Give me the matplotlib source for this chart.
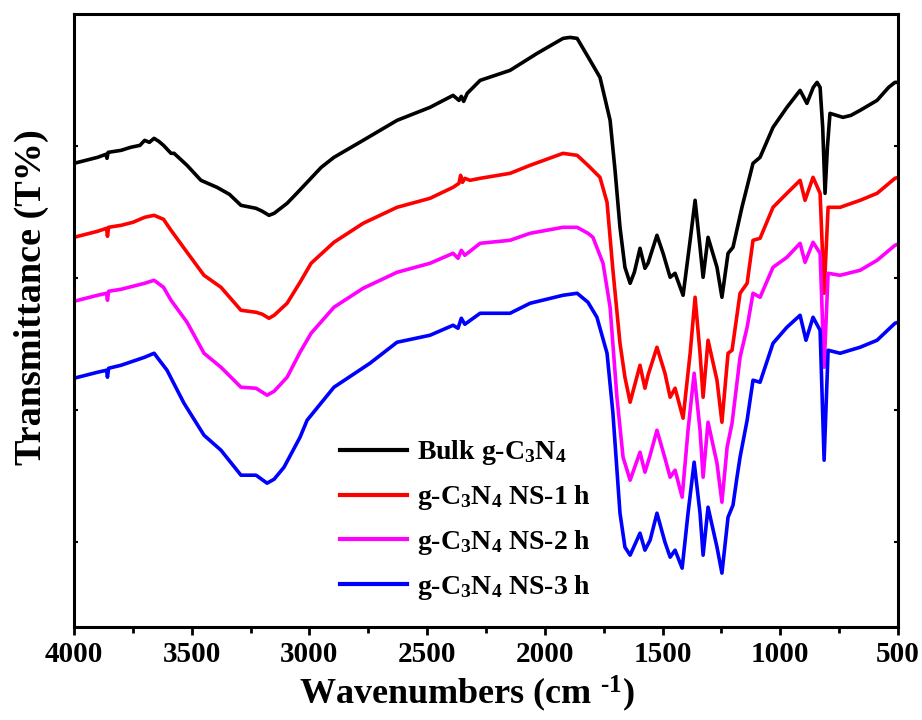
import matplotlib
matplotlib.use("Agg")
import matplotlib.pyplot as plt
from matplotlib.ticker import MultipleLocator

plt.rcParams['font.family'] = ['Liberation Serif', 'DejaVu Serif']
plt.rcParams['font.weight'] = 'bold'
plt.rcParams['mathtext.fontset'] = 'custom'
plt.rcParams['mathtext.rm'] = 'Liberation Serif:bold'
plt.rcParams['mathtext.bf'] = 'Liberation Serif:bold'
plt.rcParams['mathtext.default'] = 'bf'

# FTIR spectra, transmittance in arbitrary units (curves offset for clarity)
wn_bulk = [4000, 3950, 3900, 3865, 3860, 3855, 3800, 3760, 3720, 3700, 3680, 3660, 3640,
           3620, 3588, 3575, 3520, 3461, 3393, 3340, 3291, 3227, 3200, 3172, 3150, 3095,
           3050, 3010, 2950, 2896, 2772, 2628, 2488, 2390, 2365, 2355, 2345, 2330, 2275,
           2148, 2033, 1923, 1893, 1863, 1808, 1766, 1723, 1702, 1681, 1660, 1638, 1620,
           1596, 1575, 1562, 1524, 1498, 1468, 1447, 1413, 1383, 1362, 1341, 1328, 1307,
           1269, 1248, 1222, 1201, 1163, 1116, 1086, 1031, 972, 916, 887, 860, 844, 831,
           820, 810, 800, 789, 734, 700, 661, 589, 540, 513, 500]
t_bulk = [464, 467, 470, 473, 469, 475, 477, 480, 482, 487, 485, 489, 486,
          482, 474, 474, 462, 447, 440, 433, 422, 419, 416, 412, 414, 424,
          435, 445, 460, 470, 487, 507, 520, 532, 527, 531, 526, 534, 547,
          557, 574, 589, 590, 589, 567, 550, 507, 457, 400, 360, 344, 355,
          379, 359, 364, 392, 374, 350, 354, 332, 387, 427, 380, 350, 390,
          360, 330, 374, 380, 420, 464, 470, 500, 520, 537, 524, 540, 545, 540,
          500, 434, 480, 514, 510, 512, 517, 527, 540, 545, 545]

wn_ns1 = [4000, 3950, 3900, 3862, 3858, 3853, 3800, 3750, 3700, 3660, 3620, 3588, 3520,
          3448, 3376, 3291, 3227, 3200, 3172, 3150, 3095, 3040, 2993, 2896, 2772, 2628,
          2488, 2390, 2365, 2358, 2350, 2340, 2318, 2275, 2148, 2063, 1923, 1863, 1817,
          1766, 1736, 1711, 1681, 1660, 1638, 1596, 1575, 1562, 1524, 1490, 1468, 1447,
          1413, 1383, 1362, 1341, 1328, 1307, 1269, 1248, 1222, 1205, 1171, 1141, 1116,
          1086, 1031, 972, 916, 895, 861, 831, 814, 797, 746, 661, 589, 513, 500]
t_ns1 = [390, 393, 396, 399, 391, 400, 402, 405, 410, 412, 408, 397, 375,
         352, 340, 317, 315, 313, 309, 312, 324, 345, 364, 385, 404, 420,
         429, 440, 444, 452, 445, 449, 447, 449, 454, 462, 474, 472, 462,
         450, 425, 357, 284, 250, 225, 262, 239, 252, 280, 254, 230, 239,
         209, 274, 330, 274, 230, 287, 247, 205, 274, 277, 334, 344, 387,
         389, 420, 434, 447, 427, 450, 434, 334, 420, 420, 427, 434, 449, 450]

wn_ns2 = [4000, 3950, 3900, 3862, 3858, 3853, 3800, 3750, 3700, 3660, 3620, 3588, 3520,
          3448, 3376, 3291, 3227, 3180, 3150, 3095, 3040, 2993, 2896, 2772, 2628, 2488,
          2390, 2369, 2355, 2340, 2275, 2148, 2063, 1923, 1863, 1817, 1796, 1753, 1723,
          1694, 1668, 1638, 1596, 1575, 1553, 1524, 1490, 1468, 1447, 1417, 1392, 1366,
          1341, 1328, 1307, 1269, 1248, 1226, 1205, 1171, 1141, 1116, 1086, 1031, 972,
          916, 895, 861, 831, 814, 797, 746, 661, 589, 513, 500]
t_ns2 = [326, 329, 332, 334, 327, 336, 338, 341, 344, 347, 340, 327, 305,
         274, 260, 240, 239, 232, 236, 250, 275, 294, 320, 339, 355, 364,
         374, 369, 377, 372, 384, 387, 394, 400, 400, 394, 390, 364, 320,
         230, 170, 147, 175, 155, 172, 197, 169, 150, 157, 130, 197, 254,
         197, 150, 205, 164, 125, 180, 204, 270, 300, 334, 330, 360, 370,
         384, 365, 385, 374, 260, 354, 352, 357, 367, 382, 383]

wn_ns3 = [4000, 3950, 3900, 3862, 3858, 3853, 3800, 3750, 3700, 3660, 3605, 3533, 3448,
          3376, 3291, 3227, 3180, 3150, 3108, 3040, 3010, 2896, 2743, 2628, 2488, 2390,
          2369, 2355, 2340, 2275, 2148, 2063, 1923, 1863, 1817, 1779, 1736, 1711, 1681,
          1660, 1638, 1596, 1575, 1553, 1524, 1490, 1468, 1447, 1417, 1392, 1366, 1341,
          1328, 1307, 1269, 1248, 1222, 1201, 1184, 1171, 1141, 1116, 1086, 1031, 972,
          916, 891, 861, 831, 814, 797, 746, 661, 589, 513, 500]
t_ns3 = [249, 252, 255, 257, 250, 259, 262, 266, 270, 274, 257, 224, 192,
         177, 152, 152, 144, 148, 160, 190, 207, 240, 264, 285, 292, 302,
         299, 309, 303, 314, 314, 324, 332, 334, 325, 310, 274, 214, 114,
         80, 72, 94, 77, 87, 114, 85, 70, 77, 59, 114, 165, 114,
         72, 120, 80, 54, 110, 122, 150, 170, 207, 247, 245, 284, 300,
         312, 287, 310, 297, 167, 277, 274, 280, 287, 304, 305]

labels = ['Bulk g-C$_3$N$_4$', 'g-C$_3$N$_4$ NS-1 h', 'g-C$_3$N$_4$ NS-2 h', 'g-C$_3$N$_4$ NS-3 h']
colors = ['black', 'red', '#ff00ff', 'blue']

fig = plt.figure(figsize=(9.22, 7.2), dpi=100)
ax = fig.add_axes([0.0803, 0.129, 0.8937, 0.851])

for wn, t, lab, c in zip([wn_bulk, wn_ns1, wn_ns2, wn_ns3],
                         [t_bulk, t_ns1, t_ns2, t_ns3], labels, colors):
    ax.plot(wn, t, color=c, lw=2.6, label=lab, solid_joinstyle='round')

ax.set_xlim(4000, 500)
ax.set_ylim(0, 613)
ax.xaxis.set_major_locator(MultipleLocator(500))
ax.xaxis.set_minor_locator(MultipleLocator(250))
ax.set_yticks([85, 217, 349, 481])
ax.set_yticklabels([])
ax.tick_params(axis='x', which='major', direction='out', length=6, width=2,
               labelsize=21, pad=4)
ax.tick_params(axis='x', which='minor', direction='out', length=4, width=2)
ax.tick_params(axis='y', which='major', direction='in', length=3, width=1.5,
               left=True, right=True)
for lab in ax.get_xticklabels():
    lab.set_fontweight('bold')
for sp in ax.spines.values():
    sp.set_linewidth(2.2)

ax.set_xlabel(r'Wavenumbers (cm $^{\text{-1}}$)', fontsize=26, fontweight='bold')
ax.xaxis.set_label_coords(0.477, -0.075)
ax.set_ylabel('Transmittance (T%)', fontsize=27.5, fontweight='bold')
ax.yaxis.set_label_coords(-0.03, 0.538)

leg = ax.legend(loc='upper left', bbox_to_anchor=(0.323, 0.308), frameon=False,
                fontsize=20, handlelength=2.4, handletextpad=0.35, labelspacing=0.57,
                borderpad=0, borderaxespad=0)
for line in leg.get_lines():
    line.set_linewidth(3)

fig.savefig('out.png', dpi=100)
